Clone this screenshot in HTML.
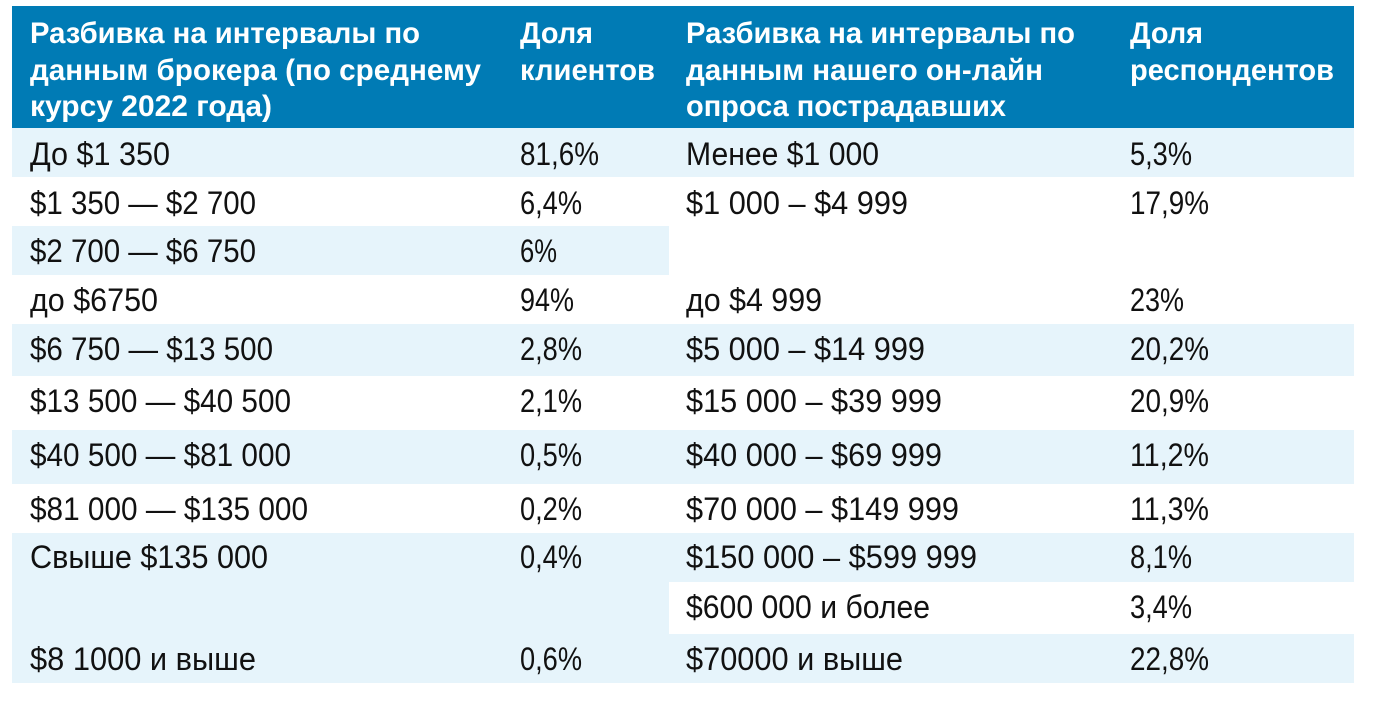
<!DOCTYPE html>
<html><head><meta charset="utf-8"><style>
html,body{margin:0;padding:0;background:#fff;width:1392px;height:708px;overflow:hidden}
svg text{font-family:"Liberation Sans","DejaVu Sans",sans-serif;}
.h{fill:#fff;font-weight:bold;font-size:30px}
.b{fill:#111;font-size:32px}
</style></head><body>
<svg width="1392" height="708" xmlns="http://www.w3.org/2000/svg">
<rect x="12" y="6" width="1342" height="122" fill="#007bb5"/>
<rect x="12" y="128" width="1342" height="49" fill="#e6f4fb"/>
<rect x="12" y="226" width="657" height="49" fill="#e6f4fb"/>
<rect x="12" y="324" width="1342" height="52" fill="#e6f4fb"/>
<rect x="12" y="430" width="1342" height="54" fill="#e6f4fb"/>
<rect x="12" y="533" width="1342" height="49" fill="#e6f4fb"/>
<rect x="12" y="582" width="657" height="52" fill="#e6f4fb"/>
<rect x="12" y="634" width="1342" height="49" fill="#e6f4fb"/>
<g class="h" style="font-size:30px">
<text x="30" y="43" textLength="390" lengthAdjust="spacingAndGlyphs">Разбивка на интервалы по</text>
<text x="30" y="80" textLength="451" lengthAdjust="spacingAndGlyphs">данным брокера (по среднему</text>
<text x="30" y="116" textLength="242" lengthAdjust="spacingAndGlyphs">курсу 2022 года)</text>
<text x="520" y="43" textLength="73" lengthAdjust="spacingAndGlyphs">Доля</text>
<text x="520" y="80" textLength="135" lengthAdjust="spacingAndGlyphs">клиентов</text>
<text x="686" y="43" textLength="389" lengthAdjust="spacingAndGlyphs">Разбивка на интервалы по</text>
<text x="686" y="80" textLength="357" lengthAdjust="spacingAndGlyphs">данным нашего он-лайн</text>
<text x="686" y="116" textLength="320" lengthAdjust="spacingAndGlyphs">опроса пострадавших</text>
<text x="1130" y="43" textLength="73" lengthAdjust="spacingAndGlyphs">Доля</text>
<text x="1130" y="80" textLength="204" lengthAdjust="spacingAndGlyphs">респондентов</text>
</g>
<g class="b" style="font-size:32px">
<text x="30" y="165" textLength="140" lengthAdjust="spacingAndGlyphs">До $1 350</text>
<text x="520" y="165" textLength="79" lengthAdjust="spacingAndGlyphs">81,6%</text>
<text x="686" y="165" textLength="193" lengthAdjust="spacingAndGlyphs">Менее $1 000</text>
<text x="1130" y="165" textLength="62" lengthAdjust="spacingAndGlyphs">5,3%</text>

<text x="30" y="214" textLength="226" lengthAdjust="spacingAndGlyphs">$1 350 — $2 700</text>
<text x="520" y="214" textLength="62" lengthAdjust="spacingAndGlyphs">6,4%</text>
<text x="686" y="214" textLength="222" lengthAdjust="spacingAndGlyphs">$1 000 – $4 999</text>
<text x="1130" y="214" textLength="79" lengthAdjust="spacingAndGlyphs">17,9%</text>

<text x="30" y="262" textLength="226" lengthAdjust="spacingAndGlyphs">$2 700 — $6 750</text>
<text x="520" y="262" textLength="37" lengthAdjust="spacingAndGlyphs">6%</text>

<text x="30" y="311" textLength="128" lengthAdjust="spacingAndGlyphs">до $6750</text>
<text x="520" y="311" textLength="54" lengthAdjust="spacingAndGlyphs">94%</text>
<text x="686" y="311" textLength="136" lengthAdjust="spacingAndGlyphs">до $4 999</text>
<text x="1130" y="311" textLength="54" lengthAdjust="spacingAndGlyphs">23%</text>

<text x="30" y="360" textLength="243" lengthAdjust="spacingAndGlyphs">$6 750 — $13 500</text>
<text x="520" y="360" textLength="62" lengthAdjust="spacingAndGlyphs">2,8%</text>
<text x="686" y="360" textLength="239" lengthAdjust="spacingAndGlyphs">$5 000 – $14 999</text>
<text x="1130" y="360" textLength="79" lengthAdjust="spacingAndGlyphs">20,2%</text>

<text x="30" y="412" textLength="261" lengthAdjust="spacingAndGlyphs">$13 500 — $40 500</text>
<text x="520" y="412" textLength="62" lengthAdjust="spacingAndGlyphs">2,1%</text>
<text x="686" y="412" textLength="256" lengthAdjust="spacingAndGlyphs">$15 000 – $39 999</text>
<text x="1130" y="412" textLength="79" lengthAdjust="spacingAndGlyphs">20,9%</text>

<text x="30" y="466" textLength="261" lengthAdjust="spacingAndGlyphs">$40 500 — $81 000</text>
<text x="520" y="466" textLength="62" lengthAdjust="spacingAndGlyphs">0,5%</text>
<text x="686" y="466" textLength="256" lengthAdjust="spacingAndGlyphs">$40 000 – $69 999</text>
<text x="1130" y="466" textLength="79" lengthAdjust="spacingAndGlyphs">11,2%</text>

<text x="30" y="520" textLength="278" lengthAdjust="spacingAndGlyphs">$81 000 — $135 000</text>
<text x="520" y="520" textLength="62" lengthAdjust="spacingAndGlyphs">0,2%</text>
<text x="686" y="520" textLength="273" lengthAdjust="spacingAndGlyphs">$70 000 – $149 999</text>
<text x="1130" y="520" textLength="79" lengthAdjust="spacingAndGlyphs">11,3%</text>

<text x="30" y="568" textLength="238" lengthAdjust="spacingAndGlyphs">Свыше $135 000</text>
<text x="520" y="568" textLength="62" lengthAdjust="spacingAndGlyphs">0,4%</text>
<text x="686" y="568" textLength="291" lengthAdjust="spacingAndGlyphs">$150 000 – $599 999</text>
<text x="1130" y="568" textLength="62" lengthAdjust="spacingAndGlyphs">8,1%</text>

<text x="686" y="618" textLength="244" lengthAdjust="spacingAndGlyphs">$600 000 и более</text>
<text x="1130" y="618" textLength="62" lengthAdjust="spacingAndGlyphs">3,4%</text>

<text x="30" y="670" textLength="226" lengthAdjust="spacingAndGlyphs">$8 1000 и выше</text>
<text x="520" y="670" textLength="62" lengthAdjust="spacingAndGlyphs">0,6%</text>
<text x="686" y="670" textLength="217" lengthAdjust="spacingAndGlyphs">$70000 и выше</text>
<text x="1130" y="670" textLength="79" lengthAdjust="spacingAndGlyphs">22,8%</text>
</g>
</svg>
</body></html>
